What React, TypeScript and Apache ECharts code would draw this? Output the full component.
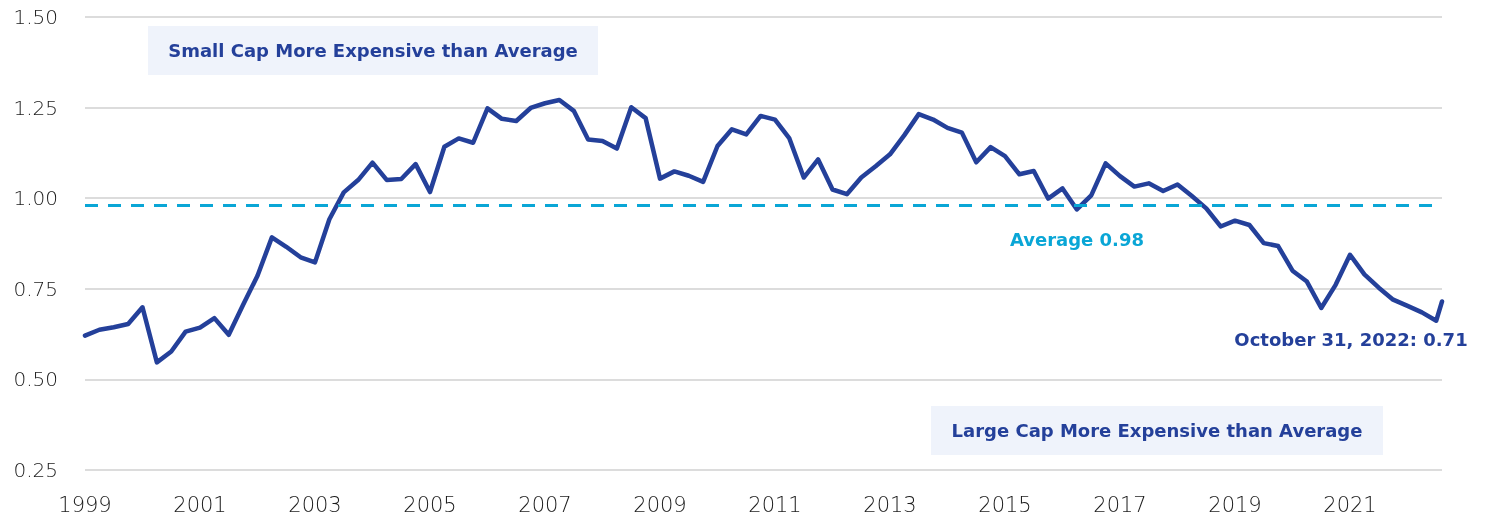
import React, { useEffect, useRef } from "react";
import * as echarts from "echarts";

// Relative valuation ratio, quarterly from Q1 1999
const startYear = 1999;
const quarterlyRatio = [
  0.621, 0.637, 0.644, 0.653, 0.699, 0.547, 0.577, 0.632, 0.643, 0.669,
  0.623, 0.706, 0.786, 0.892, 0.866, 0.837, 0.823, 0.942, 1.016, 1.05,
  1.098, 1.05, 1.053, 1.094, 1.017, 1.142, 1.165, 1.153, 1.248, 1.219,
  1.213, 1.249, 1.262, 1.271, 1.241, 1.162, 1.158, 1.137, 1.251, 1.221,
  1.054, 1.074, 1.062, 1.045, 1.144, 1.19, 1.176, 1.227, 1.217, 1.165,
  1.057, 1.107, 1.024, 1.011, 1.057, 1.088, 1.121, 1.174, 1.232, 1.217,
  1.194, 1.181, 1.099, 1.141, 1.116, 1.066, 1.075, 0.999, 1.027, 0.969,
  1.008, 1.096, 1.061, 1.032, 1.041, 1.02, 1.038, 1.006, 0.972, 0.922,
  0.938, 0.926, 0.876, 0.868, 0.8, 0.77, 0.697, 0.761, 0.844, 0.79,
  0.753, 0.72, 0.703, 0.685, 0.662,
];
// Latest reading (October 31, 2022), position in years after start
const latestOffset = 23.6;
const latestValue = 0.715;
const averageValue = 0.985;

const yTicks = [0.25, 0.5, 0.75, 1.0, 1.25, 1.5];

const DARK = "#24409a";
const LIGHT = "#0aa6d6";

export default function App() {
  const ref = useRef<HTMLDivElement>(null);
  useEffect(() => {
    if (!ref.current) return;
    const chart = echarts.init(ref.current, null, { renderer: "svg" });
    const data: [number, number][] = quarterlyRatio.map((v, i) => [i / 4, v]);
    data.push([latestOffset, latestValue]);
    const annotFont = "'DejaVu Sans', sans-serif";
    const axisFont = "'DejaVu Sans', sans-serif";
    chart.setOption({
      animation: false,
      grid: { left: 85, right: 51, top: 17, bottom: 47 },
      xAxis: {
        type: "value",
        min: 0,
        max: latestOffset,
        interval: 2,
        axisLine: { show: false },
        axisTick: { show: false },
        splitLine: { show: false },
        axisLabel: {
          showMaxLabel: false,
          margin: 24,
          color: "#1a1a1a",
          fontSize: 21,
          fontWeight: 200,
          fontFamily: axisFont,
          formatter: (v: number) => String(startYear + v),
        },
      },
      yAxis: {
        type: "value",
        min: yTicks[0],
        max: yTicks[yTicks.length - 1],
        interval: 0.25,
        axisLine: { show: false },
        axisTick: { show: false },
        splitLine: { lineStyle: { color: "#d0d0d0", width: 1.5 } },
        axisLabel: {
          margin: 27,
          color: "#1a1a1a",
          fontSize: 20,
          fontWeight: 200,
          fontFamily: axisFont,
          formatter: (v: number) => v.toFixed(2),
        },
      },
      series: [
        {
          type: "line",
          data,
          showSymbol: false,
          lineStyle: { color: DARK, width: 4.5, cap: "round", join: "round" },
          markLine: {
            silent: true,
            symbol: "none",
            label: { show: false },
            lineStyle: { color: LIGHT, width: 3, type: [13, 10] },
            data: [{ yAxis: averageValue }],
          },
        },
      ],
      graphic: [
        { type: "rect", shape: { x: 148, y: 26, width: 450, height: 49 }, style: { fill: "#eff3fb" }, z: 0 },
        {
          type: "text",
          x: 373,
          y: 50,
          style: { text: "Small Cap More Expensive than Average", fill: DARK, font: `700 18px ${annotFont}`, align: "center", verticalAlign: "middle" },
        },
        { type: "rect", shape: { x: 931, y: 406, width: 452, height: 49 }, style: { fill: "#eff3fb" }, z: 0 },
        {
          type: "text",
          x: 1157,
          y: 430,
          style: { text: "Large Cap More Expensive than Average", fill: DARK, font: `700 18px ${annotFont}`, align: "center", verticalAlign: "middle" },
        },
        {
          type: "text",
          x: 1077,
          y: 239,
          style: { text: "Average 0.98", fill: LIGHT, font: `700 18px ${annotFont}`, align: "center", verticalAlign: "middle" },
        },
        {
          type: "text",
          x: 1351,
          y: 339,
          style: { text: "October 31, 2022: 0.71", fill: DARK, font: `700 18px ${annotFont}`, align: "center", verticalAlign: "middle" },
        },
      ],
    });
    return () => chart.dispose();
  }, []);
  return <div ref={ref} style={{ position: "fixed", left: 0, top: 0, width: 1493, height: 517 }} />;
}
